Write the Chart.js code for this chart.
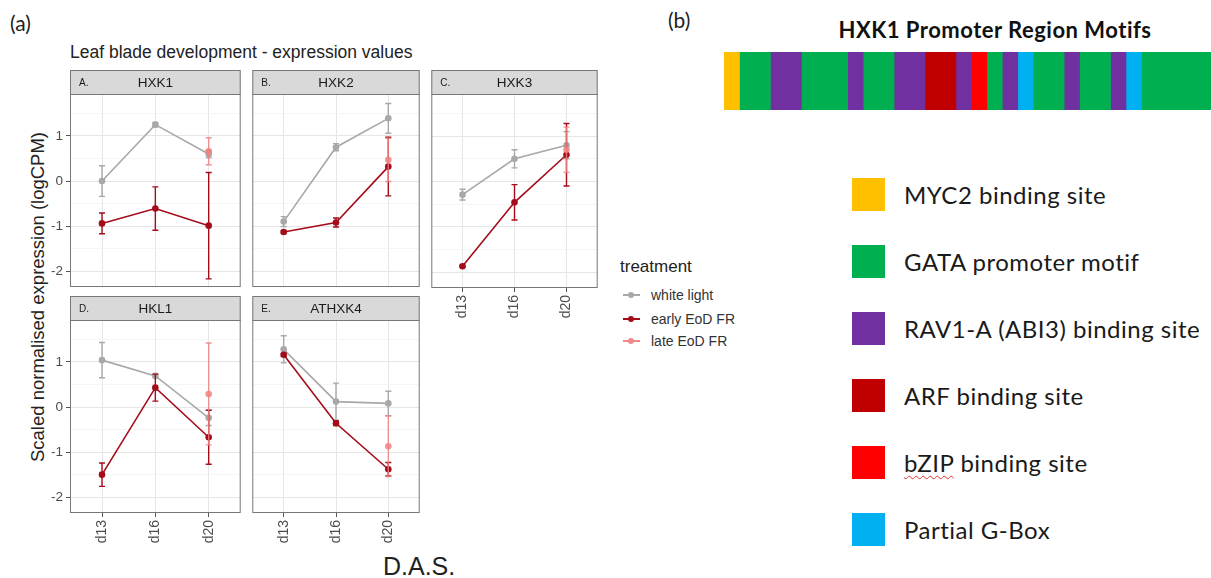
<!DOCTYPE html>
<html>
<head>
<meta charset="utf-8">
<script src="https://cdn.jsdelivr.net/npm/chart.js@4.4.1/dist/chart.umd.min.js"></script>
<style>
  body { margin: 0; width: 1211px; height: 578px; background: #fff; position: relative; overflow: hidden;
         font-family: "Liberation Sans", Arial, sans-serif; }
  canvas, .txt { position: absolute; }
  .txt { white-space: nowrap; line-height: 1; }
  .key { position: absolute; width: 33px; height: 33px; }
  .motif { position: absolute; left: 904px; font-family: Lato, "Noto Sans", sans-serif; font-size: 24px; letter-spacing: 0.5px;
           color: #1a1a1a; line-height: 33px; white-space: nowrap; }
  .tkey { position: absolute; left: 623px; width: 17px; height: 2px; }
  .tkey::after { content: ""; position: absolute; left: 5px; top: -2px; width: 6px; height: 6px; border-radius: 50%; background: inherit; }
  .tlab { position: absolute; left: 651px; font-size: 14px; color: #333; line-height: 14px; }
</style>
</head>
<body>

<div class="txt" style="left:10px;top:12px;font-family:Lato,sans-serif;font-size:21px;color:#222;">(a)</div>
<div class="txt" style="left:70px;top:44px;font-size:17.5px;color:#222;">Leaf blade development - expression values</div>
<div class="txt" id="ytitle" style="left:38px;top:297px;font-size:18.5px;color:#222;transform:translate(-50%,-50%) rotate(-90deg);">Scaled normalised expression (logCPM)</div>
<div class="txt" style="left:383px;top:554px;font-size:25px;color:#222;">D.A.S.</div>

<div class="txt" style="left:620px;top:258px;font-size:17px;color:#222;">treatment</div>
<div class="tkey" style="top:294px;background:#a8a8a8;"></div><div class="tlab" style="top:288px;">white light</div>
<div class="tkey" style="top:318px;background:#a30d1a;"></div><div class="tlab" style="top:312px;">early EoD FR</div>
<div class="tkey" style="top:340px;background:#f08a8a;"></div><div class="tlab" style="top:334px;">late EoD FR</div>

<div class="txt" style="left:668px;top:9px;font-family:Lato,sans-serif;font-size:21px;color:#222;">(b)</div>
<div class="txt" style="left:995px;top:19px;transform:translateX(-50%);font-family:Lato,sans-serif;font-weight:bold;font-size:22px;letter-spacing:0.5px;color:#111;">HXK1 Promoter Region Motifs</div>
<canvas id="motifs" width="487" height="58" style="left:724px;top:52px;"></canvas>
<div id="motifLegend"></div>

<script>
// expression panels: scaled logCPM, mean and standard error per time point
const categories = ['d13', 'd16', 'd20'];
const genes = ['HXK1', 'HXK2', 'HXK3', 'HKL1', 'ATHXK4'];
const panelLetters = ['A.', 'B.', 'C.', 'D.', 'E.'];
const yGrid = [-2, -1.5, -1, -0.5, 0, 0.5, 1, 1.5];

const whiteMean = [[0.00, 1.25, 0.60], [-0.90, 0.75, 1.39], [-0.29, 0.50, 0.80], [1.04, 0.69, -0.24], [1.28, 0.12, 0.08]];
const whiteSE   = [[0.34, 0.05, 0.08], [0.11, 0.08, 0.33], [0.12, 0.20, 0.30], [0.39, 0.03, 0.17], [0.30, 0.41, 0.27]];
const earlyMean = [[-0.94, -0.61, -0.99], [-1.13, -0.92, 0.32], [-1.87, -0.46, 0.59], [-1.50, 0.43, -0.67], [1.16, -0.36, -1.38]];
const earlySE   = [[0.23, 0.48, 1.18], [0.03, 0.10, 0.65], [0.02, 0.39, 0.69], [0.26, 0.30, 0.60], [0.03, 0.05, 0.15]];
const lateMean  = [[null, null, 0.66], [null, null, 0.47], [null, null, 0.70], [null, null, 0.29], [null, null, -0.87]];
const lateSE    = [[null, null, 0.30], [null, null, 0.48], [null, null, 0.50], [null, null, 1.13], [null, null, 0.67]];

// promoter motif track, lengths in motif units from 5' to 3'
const motifNames = ['MYC2 binding site', 'GATA promoter motif', 'RAV1-A (ABI3) binding site', 'ARF binding site', 'bZIP binding site', 'Partial G-Box'];
const motifSegments = ['MYC2 binding site', 'GATA promoter motif', 'RAV1-A (ABI3) binding site', 'GATA promoter motif',
  'RAV1-A (ABI3) binding site', 'GATA promoter motif', 'RAV1-A (ABI3) binding site', 'ARF binding site',
  'RAV1-A (ABI3) binding site', 'bZIP binding site', 'GATA promoter motif', 'RAV1-A (ABI3) binding site',
  'Partial G-Box', 'GATA promoter motif', 'RAV1-A (ABI3) binding site', 'GATA promoter motif',
  'RAV1-A (ABI3) binding site', 'Partial G-Box', 'GATA promoter motif'];
const segmentLengths = [1, 2, 2, 3, 1, 2, 2, 2, 1, 1, 1, 1, 1, 2, 1, 2, 1, 1, 4.5];

const motifColours = {
  'MYC2 binding site': '#ffc000',
  'GATA promoter motif': '#00b050',
  'RAV1-A (ABI3) binding site': '#7030a0',
  'ARF binding site': '#c00000',
  'bZIP binding site': '#ff0000',
  'Partial G-Box': '#00b0f0'
};

const GREY = '#a8a8a8', DARKRED = '#a30d1a', PINK = 'rgba(240,128,128,0.85)';
const STRIP_H = 24;

// facet strip + panel border
const panelFrame = {
  id: 'panelFrame',
  beforeDraw(chart, args, opts) {
    const { ctx, chartArea: a } = chart;
    ctx.save();
    ctx.fillStyle = '#d9d9d9';
    ctx.fillRect(a.left, a.top - STRIP_H, a.right - a.left, STRIP_H);
    ctx.strokeStyle = '#777';
    ctx.lineWidth = 1;
    ctx.strokeRect(a.left + 0.5, a.top - STRIP_H + 0.5, a.right - a.left - 1, STRIP_H);
    ctx.fillStyle = '#1a1a1a';
    ctx.textBaseline = 'middle';
    ctx.textAlign = 'left';
    ctx.font = '10px "Liberation Sans"';
    ctx.fillText(opts.letter, a.left + 9, a.top - STRIP_H / 2 + 1);
    ctx.textAlign = 'center';
    ctx.font = '13.5px "Liberation Sans"';
    ctx.fillText(opts.gene, (a.left + a.right) / 2, a.top - STRIP_H / 2 + 1);
    ctx.restore();
  },
  afterDraw(chart) {
    const { ctx, chartArea: a } = chart;
    ctx.save();
    ctx.strokeStyle = '#777';
    ctx.lineWidth = 1;
    ctx.strokeRect(a.left + 0.5, a.top + 0.5, a.right - a.left - 1, a.bottom - a.top - 1);
    ctx.restore();
  }
};

// mean +/- se whiskers, drawn right after their own series
const errorBars = {
  id: 'errorBars',
  afterDatasetDraw(chart, args) {
    const ds = chart.data.datasets[args.index];
    if (!ds.se) return;
    const { ctx } = chart;
    const xs = chart.scales.x, ys = chart.scales.y;
    ctx.save();
    ctx.strokeStyle = ds.borderColor;
    ctx.lineWidth = 1.4;
    ds.data.forEach((p, i) => {
      if (p.y == null) return;
      const x = xs.getPixelForValue(p.x);
      const lo = ys.getPixelForValue(p.y - ds.se[i]);
      const hi = ys.getPixelForValue(p.y + ds.se[i]);
      ctx.beginPath();
      ctx.moveTo(x, lo); ctx.lineTo(x, hi);
      ctx.moveTo(x - 3, lo); ctx.lineTo(x + 3, lo);
      ctx.moveTo(x - 3, hi); ctx.lineTo(x + 3, hi);
      ctx.stroke();
    });
    ctx.restore();
  }
};

function series(label, mean, se, colour, order) {
  return {
    label, order, se,
    data: mean.map((v, i) => ({ x: i + 1, y: v })),
    borderColor: colour, backgroundColor: colour,
    borderWidth: 1.6, pointRadius: 3.3, pointBorderWidth: 0, pointHoverRadius: 3.3,
    spanGaps: false, tension: 0
  };
}

function panel(k, left, top, w, h, showY, showX) {
  const yw = showY ? 32 : 0, xh = showX ? 44 : 0;
  const cv = document.createElement('canvas');
  cv.width = w + yw + 2;
  cv.height = STRIP_H + h + (showX ? xh : 12);
  cv.style.left = (left - yw) + 'px';
  cv.style.top = (top - STRIP_H) + 'px';
  document.body.appendChild(cv);

  const major = c => Number.isInteger(c.tick.value);
  new Chart(cv, {
    type: 'line',
    data: {
      datasets: [
        series('white light', whiteMean[k], whiteSE[k], GREY, 3),
        series('early EoD FR', earlyMean[k], earlySE[k], DARKRED, 2),
        series('late EoD FR', lateMean[k], lateSE[k], PINK, 1)
      ]
    },
    options: {
      responsive: false,
      animation: false,
      events: [],
      layout: { padding: { top: STRIP_H, right: 2, bottom: showX ? 0 : 12, left: 0 } },
      plugins: {
        legend: { display: false },
        tooltip: { enabled: false },
        panelFrame: { letter: panelLetters[k], gene: genes[k] }
      },
      scales: {
        x: {
          type: 'linear', min: 0.4, max: 3.6,
          afterFit: s => { s.height = xh; },
          afterBuildTicks: s => { s.ticks = categories.map((c, i) => ({ value: i + 1 })); },
          border: { display: false },
          grid: { color: '#e6e6e6', lineWidth: 1, drawTicks: showX, tickLength: 4, tickColor: '#555' },
          ticks: {
            display: showX, autoSkip: false, minRotation: 90, maxRotation: 90, padding: 3,
            color: '#4d4d4d', font: { family: 'Liberation Sans', size: 14 },
            callback: v => categories[v - 1]
          }
        },
        y: {
          min: -2.35, max: 1.93,
          afterFit: s => { s.width = yw; },
          afterBuildTicks: s => { s.ticks = yGrid.map(v => ({ value: v })); },
          border: { display: false },
          grid: {
            color: c => major(c) ? '#e6e6e6' : '#f2f2f2',
            lineWidth: c => major(c) ? 1 : 0.8,
            drawTicks: showY, tickLength: 4,
            tickColor: c => major(c) ? '#555' : 'rgba(0,0,0,0)'
          },
          ticks: {
            display: showY, autoSkip: false, padding: 3,
            color: '#4d4d4d', font: { family: 'Liberation Sans', size: 13.5 },
            callback: v => Number.isInteger(v) ? String(v) : ''
          }
        }
      }
    },
    plugins: [panelFrame, errorBars]
  });
}

panel(0, 70, 94, 172, 193, true, false);
panel(1, 249, 94, 172, 193, false, false);
panel(2, 428, 94, 171, 194, false, true);
panel(3, 70, 320, 172, 193, true, true);
panel(4, 249, 320, 172, 193, false, true);

// motif track as a single stacked horizontal bar
const trackLength = segmentLengths.reduce((a, b) => a + b, 0);
new Chart(document.getElementById('motifs'), {
  type: 'bar',
  data: {
    labels: ['HXK1'],
    datasets: motifSegments.map((m, i) => ({
      label: m,
      data: [segmentLengths[i]],
      backgroundColor: motifColours[m],
      borderWidth: 0,
      barPercentage: 1,
      categoryPercentage: 1
    }))
  },
  options: {
    indexAxis: 'y',
    responsive: false,
    animation: false,
    events: [],
    layout: { padding: 0 },
    plugins: { legend: { display: false }, tooltip: { enabled: false } },
    scales: {
      x: { stacked: true, display: false, min: 0, max: trackLength },
      y: { stacked: true, display: false }
    }
  }
});

// motif key
const legendBox = document.getElementById('motifLegend');
motifNames.forEach((name, i) => {
  const top = 178 + i * 67;
  const sq = document.createElement('div');
  sq.className = 'key';
  sq.style.left = '852px';
  sq.style.top = top + 'px';
  sq.style.background = motifColours[name];
  legendBox.appendChild(sq);
  const lab = document.createElement('div');
  lab.className = 'motif';
  lab.style.top = top + 'px';
  if (name.startsWith('bZIP')) {
    lab.innerHTML = '<span style="text-decoration:underline wavy #e03030;text-decoration-thickness:1px;text-underline-offset:3px;">bZIP</span>' + name.slice(4);
  } else {
    lab.textContent = name;
  }
  legendBox.appendChild(lab);
});
</script>
</body>
</html>
